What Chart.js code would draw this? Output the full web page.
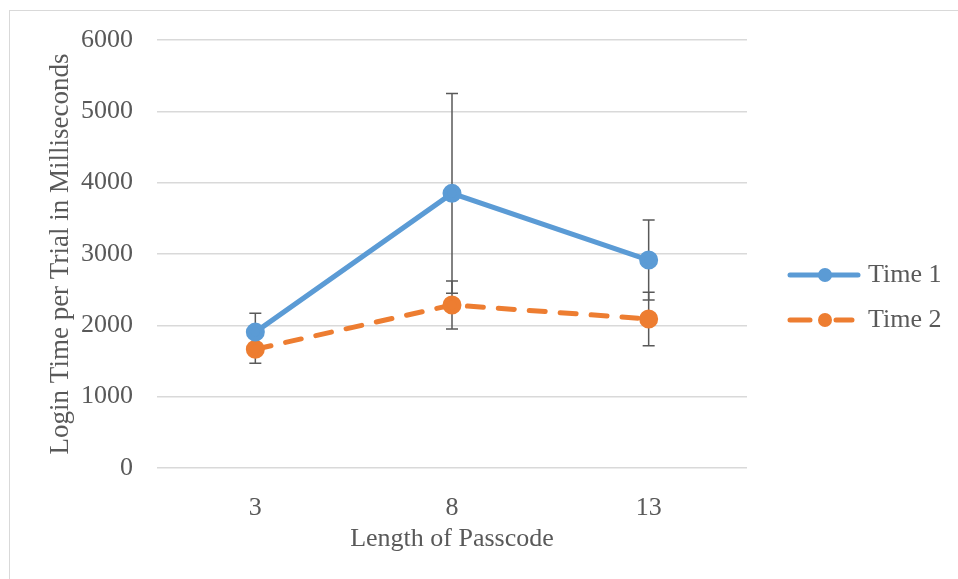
<!DOCTYPE html>
<html>
<head>
<meta charset="utf-8">
<script src="https://cdn.jsdelivr.net/npm/chart.js@4"></script>
<style>
  html, body { margin: 0; padding: 0; background: #fff; overflow: hidden; }
  #frame { position: absolute; left: 9px; top: 10px; width: 960px; height: 580px; border: 1px solid #d9d9d9; box-sizing: border-box; }
  #wrap { position: absolute; left: 0; top: 0; width: 958px; height: 579px; }
</style>
</head>
<body>
<div id="frame"></div>
<div id="wrap"><canvas id="loginChart"></canvas></div>
<script>
// Chart data
const categories = ['3', '8', '13'];
const time1 = [1905, 3850, 2915];
const time2 = [1665, 2285, 2090];
const time1Err = [265, 1400, 560];
const time2Err = [195, 335, 375];
const yTicks = [0, 1000, 2000, 3000, 4000, 5000, 6000];

const FONT = "'Liberation Serif', 'Times New Roman', serif";
const TEXT = '#595959';
const BLUE = '#5b9bd5';
const ORANGE = '#ed7d31';

// error bars drawn under the lines
const errorBars = {
    id: 'errorBars',
    beforeDatasetsDraw(chart) {
        const ctx = chart.ctx;
        const x = chart.scales.x, y = chart.scales.y;
        const errs = [time1Err, time2Err];
        ctx.save();
        ctx.strokeStyle = '#595959';
        ctx.lineWidth = 1.5;
        chart.data.datasets.forEach((ds, di) => {
            ds.data.forEach((v, i) => {
                const px = x.getPixelForValue(i);
                const top = y.getPixelForValue(v + errs[di][i]);
                const bot = y.getPixelForValue(v - errs[di][i]);
                ctx.beginPath();
                ctx.moveTo(px, top); ctx.lineTo(px, bot);
                ctx.moveTo(px - 6, top); ctx.lineTo(px + 6, top);
                ctx.moveTo(px - 6, bot); ctx.lineTo(px + 6, bot);
                ctx.stroke();
            });
        });
        ctx.restore();
    }
};

// legend on the right: line sample with dot, then label
const sideLegend = {
    id: 'sideLegend',
    afterDraw(chart) {
        const ctx = chart.ctx;
        const rows = [275, 320];
        ctx.save();
        chart.data.datasets.forEach((ds, i) => {
            const yy = rows[i];
            ctx.strokeStyle = ds.borderColor;
            ctx.lineWidth = 5;
            ctx.lineCap = 'round';
            ctx.beginPath();
            if (ds.borderDash) {
                ctx.moveTo(790, yy); ctx.lineTo(810, yy);
                ctx.moveTo(836, yy); ctx.lineTo(852, yy);
            } else {
                ctx.moveTo(790, yy); ctx.lineTo(858, yy);
            }
            ctx.stroke();
            ctx.fillStyle = ds.pointBackgroundColor;
            ctx.beginPath();
            ctx.arc(825, yy, 7, 0, Math.PI * 2);
            ctx.fill();
            ctx.fillStyle = TEXT;
            ctx.font = '26px ' + FONT;
            ctx.textBaseline = 'middle';
            ctx.textAlign = 'left';
            ctx.fillText(ds.label, 868, yy);
        });
        ctx.restore();
    }
};

new Chart(document.getElementById('loginChart'), {
    type: 'line',
    data: {
        labels: categories,
        datasets: [
            {
                label: 'Time 1',
                data: time1,
                borderColor: BLUE,
                backgroundColor: BLUE,
                pointBackgroundColor: BLUE,
                pointBorderColor: BLUE,
                borderWidth: 5,
                pointRadius: 7,
                tension: 0
            },
            {
                label: 'Time 2',
                data: time2,
                borderColor: ORANGE,
                backgroundColor: ORANGE,
                pointBackgroundColor: ORANGE,
                pointBorderColor: ORANGE,
                borderWidth: 5,
                borderDash: [16, 15],
                borderCapStyle: 'round',
                pointRadius: 7,
                tension: 0
            }
        ]
    },
    options: {
        responsive: true,
        maintainAspectRatio: false,
        animation: false,
        layout: { padding: { left: 28, top: 40, right: 211, bottom: 10 } },
        plugins: {
            legend: { display: false },
            tooltip: { enabled: false }
        },
        scales: {
            x: {
                offset: true,
                grid: { display: false },
                border: { display: false },
                ticks: { color: TEXT, font: { family: FONT, size: 26 }, padding: 17 },
                title: {
                    display: true,
                    text: 'Length of Passcode',
                    color: TEXT,
                    font: { family: FONT, size: 26 },
                    padding: { top: 14, bottom: 14 }
                },
                afterFit(scale) { scale.height = 101; }
            },
            y: {
                min: 0,
                max: 6000,
                afterBuildTicks(scale) { scale.ticks = yTicks.map(v => ({ value: v })); },
                grid: { color: '#d9d9d9', lineWidth: 1.5, drawTicks: false },
                border: { display: false },
                ticks: {
                    color: TEXT,
                    font: { family: FONT, size: 26 },
                    padding: 24,
                    callback: (v) => String(v)
                },
                title: {
                    display: true,
                    text: 'Login Time per Trial in Milliseconds',
                    color: TEXT,
                    font: { family: FONT, size: 27 },
                    padding: { top: 17, bottom: 17 }
                },
                afterFit(scale) { scale.width = 129; }
            }
        }
    },
    plugins: [errorBars, sideLegend]
});
</script>
</body>
</html>
